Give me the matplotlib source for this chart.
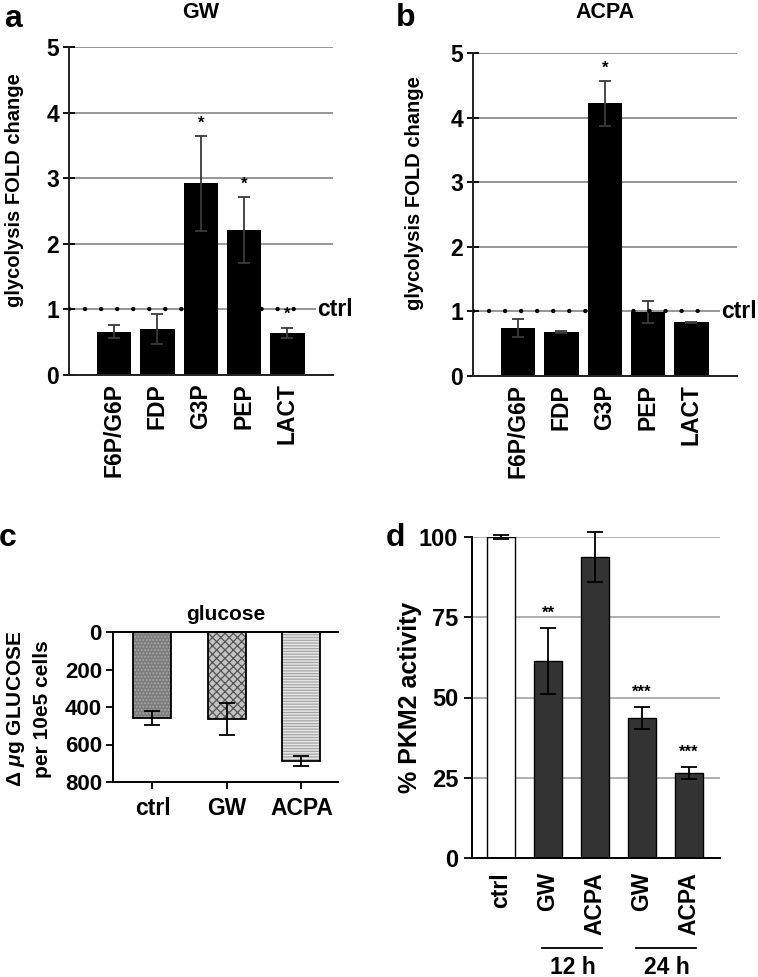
import numpy as np
import matplotlib
matplotlib.use('Agg')
from matplotlib import pyplot as plt

plt.rcParams['font.family'] = ['Liberation Sans', 'DejaVu Sans']
plt.rcParams['font.weight'] = 'bold'
plt.rcParams['axes.titleweight'] = 'bold'
plt.rcParams['axes.labelweight'] = 'bold'
plt.rcParams['mathtext.fontset'] = 'custom'
plt.rcParams['mathtext.it'] = 'Liberation Sans:italic:bold'
plt.rcParams['mathtext.rm'] = 'Liberation Sans:bold'
plt.rcParams['hatch.linewidth'] = 0.9

# panels a, b: glycolysis fold change
metabolites = ['F6P/G6P', 'FDP', 'G3P', 'PEP', 'LACT']
gw_fold = [0.66, 0.70, 2.92, 2.21, 0.64]
gw_err = [0.10, 0.23, 0.72, 0.50, 0.08]
gw_sig = ['', '', '*', '*', '*']
acpa_fold = [0.74, 0.68, 4.22, 0.99, 0.83]
acpa_err = [0.14, 0.01, 0.35, 0.17, 0.01]
acpa_sig = ['', '', '*', '', '']
ctrl_level = 1.0

# panel c: glucose
glc_groups = ['ctrl', 'GW', 'ACPA']
glc_values = [459, 462, 688]
glc_err = [38, 85, 25]

# panel d: PKM2 activity
pkm_labels = ['ctrl', 'GW', 'ACPA', 'GW', 'ACPA']
pkm_values = [100, 61.4, 93.8, 43.6, 26.5]
pkm_err = [0.5, 10.2, 7.8, 3.4, 1.9]
pkm_sig = ['', '**', '', '***', '***']
pkm_times = ['12 h', '24 h']

W, H = 758, 977
fig = plt.figure(figsize=(W / 100, H / 100), dpi=100)


def px_axes(l, t, r, b):
    return fig.add_axes([l / W, 1 - b / H, (r - l) / W, (b - t) / H])


def fx(x):
    return x / W


def fy(y):
    return 1 - y / H


TICK = 16.5
LABEL = 14.5


def fold_panel(ax, values, errs, sig, title, letter, lx, ly, tx):
    x = np.arange(len(metabolites))
    ax.set_xlim(-1.04, 5.05)
    ax.set_ylim(0, 5)
    ax.set_yticks(range(6))
    ax.yaxis.grid(True, color='#7a7a7a', linewidth=1.1)
    ax.set_axisbelow(True)
    ax.bar(x, values, width=0.79, color='black', zorder=2)
    ax.errorbar(x, values, yerr=errs, fmt='none', ecolor='#3a3a3a',
                elinewidth=1.3, capsize=4, capthick=1.3, zorder=3)
    for xi, v, e, s in zip(x, values, errs, sig):
        if s:
            ax.text(xi, v + e + 0.2, s, ha='center', va='center',
                    fontsize=12, zorder=4)
    # ctrl reference line
    ax.plot([0.0, 0.885], [ctrl_level, ctrl_level], transform=ax.get_yaxis_transform(),
            color='black', linewidth=3.2, linestyle=(0, (0.01, 3.6)),
            dash_capstyle='round', zorder=4)
    ax.text(0.94, ctrl_level, 'ctrl', transform=ax.get_yaxis_transform(),
            ha='left', va='center', fontsize=TICK, zorder=5,
            bbox=dict(facecolor='white', edgecolor='none', pad=0.5))
    for s in ['top', 'right']:
        ax.spines[s].set_visible(False)
    for s in ['left', 'bottom']:
        ax.spines[s].set_linewidth(1.4)
        ax.spines[s].set_color('#222222')
    ax.set_xticks(x)
    ax.set_xticklabels(metabolites, rotation=90, fontsize=TICK)
    ax.tick_params(axis='x', length=0, pad=6)
    ax.tick_params(axis='y', direction='inout', length=8, width=1.3,
                   labelsize=TICK, pad=3)
    fig.text(fx(tx), fy(13), title, ha='center', va='center', fontsize=15.5)
    fig.text(fx(lx), fy(ly), letter, ha='center', va='center', fontsize=23)


ax_a = px_axes(69, 47, 333, 375)
fold_panel(ax_a, gw_fold, gw_err, gw_sig, 'GW', 'a', 13, 19, 201)
fig.text(fx(15), fy(190), 'glycolysis FOLD change', rotation=90,
         ha='center', va='center', fontsize=LABEL)

ax_b = px_axes(473, 53, 737, 376)
fold_panel(ax_b, acpa_fold, acpa_err, acpa_sig, 'ACPA', 'b', 406, 18, 605)
fig.text(fx(414), fy(193), 'glycolysis FOLD change', rotation=90,
         ha='center', va='center', fontsize=LABEL)

# panel c
ax_c = px_axes(113, 632, 338, 782)
xc = np.arange(len(glc_groups))
faces = ['#7c7c7c', '#c4c4c4', '#e6e6e6']
hatches = ['.....', 'xxxx', '------']
hcols = ['#a8a8a8', '#555555', '#a6a6a6']
for xi, v, f, h, hc in zip(xc, glc_values, faces, hatches, hcols):
    ax_c.bar(xi, v, width=0.51, color=f, hatch=h, edgecolor=hc, linewidth=0, zorder=2)
ax_c.bar(xc, glc_values, width=0.51, fill=False, edgecolor='black', linewidth=1.3, zorder=3)
ax_c.errorbar(xc, glc_values, yerr=glc_err, fmt='none', ecolor='black',
              elinewidth=1.3, capsize=6, capthick=1.3, zorder=4)
ax_c.set_xlim(-0.53, 2.49)
ax_c.set_ylim(800, 0)
ax_c.set_yticks([0, 200, 400, 600, 800])
ax_c.set_xticks(xc)
ax_c.set_xticklabels(glc_groups, fontsize=TICK)
ax_c.tick_params(axis='x', length=5, width=1.3, pad=6)
ax_c.tick_params(axis='y', length=5, width=1.3, labelsize=16, pad=3)
ax_c.spines['right'].set_visible(False)
for s in ['left', 'bottom', 'top']:
    ax_c.spines[s].set_linewidth(1.4)
ax_c.set_title('glucose', fontsize=15, pad=9)
fig.text(fx(16), fy(709), r'Δ $\mu$g GLUCOSE', rotation=90, ha='center', va='center', fontsize=15)
fig.text(fx(43), fy(709), 'per 10e5 cells', rotation=90, ha='center', va='center', fontsize=15)
fig.text(fx(8), fy(538), 'c', ha='center', va='center', fontsize=23)

# panel d
ax_d = px_axes(472, 537, 720, 858)
xd = np.arange(len(pkm_labels))
colors = ['white'] + ['#333333'] * 4
ax_d.bar(xd, pkm_values, width=0.6, color=colors, edgecolor='black', linewidth=1.0, zorder=2)
ax_d.errorbar(xd, pkm_values, yerr=pkm_err, fmt='none', ecolor='black',
              elinewidth=1.3, capsize=5.5, capthick=1.3, zorder=3, clip_on=False)
for xi, v, e, s in zip(xd, pkm_values, pkm_err, pkm_sig):
    if s:
        ax_d.text(xi, v + e + 4.5, s, ha='center', va='center', fontsize=12)
ax_d.set_xlim(-0.62, 4.66)
ax_d.set_ylim(0, 100)
ax_d.set_yticks([0, 25, 50, 75, 100])
ax_d.yaxis.grid(True, color='#9a9a9a', linewidth=1.1)
ax_d.set_axisbelow(True)
ax_d.set_xticks(xd)
ax_d.set_xticklabels(pkm_labels, rotation=90, fontsize=TICK)
ax_d.tick_params(axis='x', length=0, pad=10)
ax_d.tick_params(axis='y', length=6, width=1.3, labelsize=17, pad=4)
for s in ['top', 'right']:
    ax_d.spines[s].set_visible(False)
for s in ['left', 'bottom']:
    ax_d.spines[s].set_linewidth(1.4)
fig.text(fx(410), fy(697), '% PKM2 activity', rotation=90, ha='center', va='center', fontsize=18)
trans = ax_d.get_xaxis_transform()
for k, lab in enumerate(pkm_times):
    g0, g1 = xd[1 + 2 * k], xd[2 + 2 * k]
    ax_d.plot([g0 - 0.12, g1 + 0.15], [-0.28, -0.28], transform=trans,
              color='black', linewidth=1.3, clip_on=False)
    ax_d.text((g0 + g1) / 2 + 0.02, -0.34, lab, transform=trans,
              ha='center', va='center', fontsize=16.5)
fig.text(fx(395), fy(538), 'd', ha='center', va='center', fontsize=23)

fig.savefig('out.png', dpi=100)
